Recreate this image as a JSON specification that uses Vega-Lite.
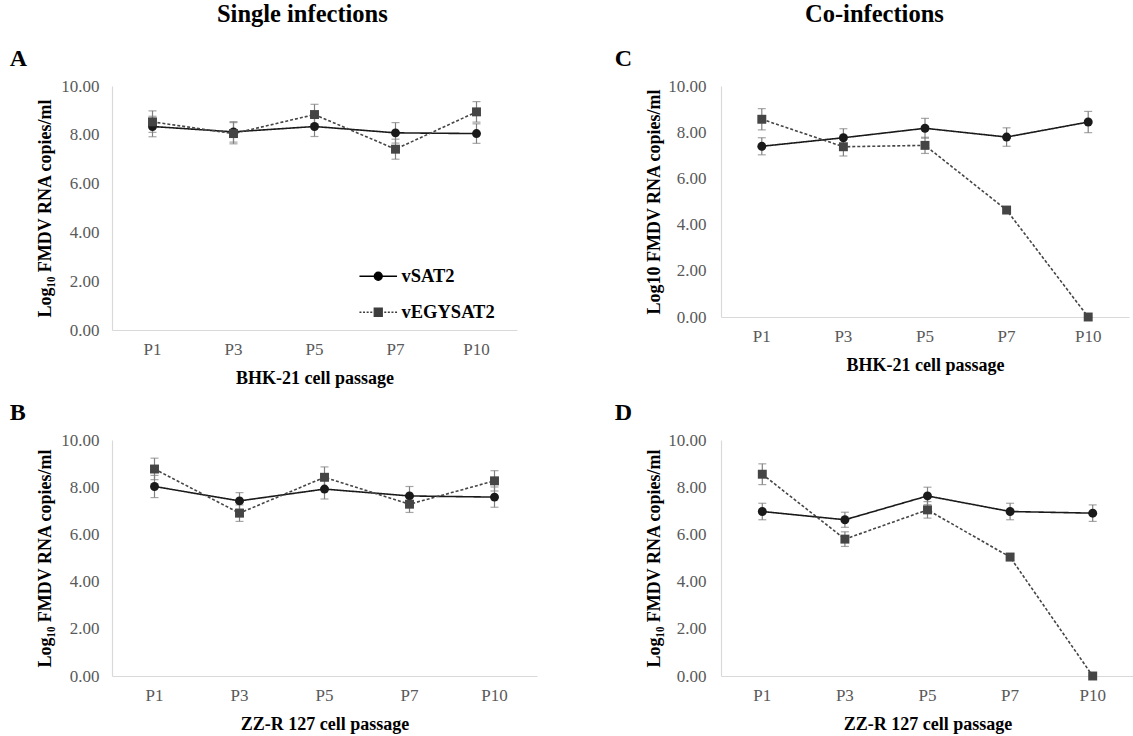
{
  "$schema": "https://vega.github.io/schema/vega-lite/v6.json",
  "padding": {"left": 9, "top": 1, "right": 0, "bottom": 2},
  "background": "white",
  "config": {
    "font": "Liberation Serif",
    "view": {"stroke": null},
    "axis": {
      "labelFont": "Liberation Serif",
      "labelFontSize": 17,
      "labelColor": "#595959",
      "titleFont": "Liberation Serif",
      "titleFontSize": 18,
      "titleFontWeight": "bold",
      "titleColor": "#000000",
      "domainColor": "#d9d9d9",
      "domainWidth": 1.2,
      "ticks": false,
      "grid": false,
      "labelOverlap": false
    },
    "axisY": {"labelPadding": 13, "titlePadding": 6, "format": ".2f"},
    "axisX": {"labelPadding": 11, "titlePadding": 12, "labelAngle": 0},
    "title": {"font": "Liberation Serif", "fontWeight": "bold", "color": "#000000"}
  },
  "datasets": {
    "d": [
      {"panel": "A", "series": "vSAT2", "passage": "P1", "value": 8.34, "lo": 7.92, "hi": 8.76},
      {"panel": "A", "series": "vSAT2", "passage": "P3", "value": 8.12, "lo": 7.70, "hi": 8.54},
      {"panel": "A", "series": "vSAT2", "passage": "P5", "value": 8.34, "lo": 7.93, "hi": 8.75},
      {"panel": "A", "series": "vSAT2", "passage": "P7", "value": 8.08, "lo": 7.66, "hi": 8.50},
      {"panel": "A", "series": "vSAT2", "passage": "P10", "value": 8.05, "lo": 7.65, "hi": 8.45},
      {"panel": "A", "series": "vEGYSAT2", "passage": "P1", "value": 8.53, "lo": 8.10, "hi": 8.98},
      {"panel": "A", "series": "vEGYSAT2", "passage": "P3", "value": 8.05, "lo": 7.63, "hi": 8.50},
      {"panel": "A", "series": "vEGYSAT2", "passage": "P5", "value": 8.83, "lo": 8.41, "hi": 9.25},
      {"panel": "A", "series": "vEGYSAT2", "passage": "P7", "value": 7.41, "lo": 7.00, "hi": 7.82},
      {"panel": "A", "series": "vEGYSAT2", "passage": "P10", "value": 8.94, "lo": 8.52, "hi": 9.36},

      {"panel": "B", "series": "vSAT2", "passage": "P1", "value": 8.03, "lo": 7.56, "hi": 8.50},
      {"panel": "B", "series": "vSAT2", "passage": "P3", "value": 7.42, "lo": 7.07, "hi": 7.77},
      {"panel": "B", "series": "vSAT2", "passage": "P5", "value": 7.92, "lo": 7.50, "hi": 8.34},
      {"panel": "B", "series": "vSAT2", "passage": "P7", "value": 7.63, "lo": 7.23, "hi": 8.03},
      {"panel": "B", "series": "vSAT2", "passage": "P10", "value": 7.58, "lo": 7.15, "hi": 8.01},
      {"panel": "B", "series": "vEGYSAT2", "passage": "P1", "value": 8.77, "lo": 8.32, "hi": 9.23},
      {"panel": "B", "series": "vEGYSAT2", "passage": "P3", "value": 6.90, "lo": 6.55, "hi": 7.25},
      {"panel": "B", "series": "vEGYSAT2", "passage": "P5", "value": 8.42, "lo": 7.98, "hi": 8.86},
      {"panel": "B", "series": "vEGYSAT2", "passage": "P7", "value": 7.28, "lo": 6.93, "hi": 7.63},
      {"panel": "B", "series": "vEGYSAT2", "passage": "P10", "value": 8.27, "lo": 7.84, "hi": 8.70},

      {"panel": "C", "series": "vSAT2", "passage": "P1", "value": 7.39, "lo": 7.02, "hi": 7.76},
      {"panel": "C", "series": "vSAT2", "passage": "P3", "value": 7.76, "lo": 7.37, "hi": 8.15},
      {"panel": "C", "series": "vSAT2", "passage": "P5", "value": 8.17, "lo": 7.74, "hi": 8.60},
      {"panel": "C", "series": "vSAT2", "passage": "P7", "value": 7.79, "lo": 7.39, "hi": 8.19},
      {"panel": "C", "series": "vSAT2", "passage": "P10", "value": 8.44, "lo": 7.98, "hi": 8.90},
      {"panel": "C", "series": "vEGYSAT2", "passage": "P1", "value": 8.56, "lo": 8.10, "hi": 9.02},
      {"panel": "C", "series": "vEGYSAT2", "passage": "P3", "value": 7.37, "lo": 6.97, "hi": 7.77},
      {"panel": "C", "series": "vEGYSAT2", "passage": "P5", "value": 7.43, "lo": 7.08, "hi": 7.78},
      {"panel": "C", "series": "vEGYSAT2", "passage": "P7", "value": 4.63, "lo": 4.50, "hi": 4.76},
      {"panel": "C", "series": "vEGYSAT2", "passage": "P10", "value": 0.0, "lo": 0.0, "hi": 0.0},

      {"panel": "D", "series": "vSAT2", "passage": "P1", "value": 6.97, "lo": 6.62, "hi": 7.32},
      {"panel": "D", "series": "vSAT2", "passage": "P3", "value": 6.62, "lo": 6.30, "hi": 6.94},
      {"panel": "D", "series": "vSAT2", "passage": "P5", "value": 7.63, "lo": 7.26, "hi": 8.00},
      {"panel": "D", "series": "vSAT2", "passage": "P7", "value": 6.97, "lo": 6.62, "hi": 7.32},
      {"panel": "D", "series": "vSAT2", "passage": "P10", "value": 6.90, "lo": 6.55, "hi": 7.25},
      {"panel": "D", "series": "vEGYSAT2", "passage": "P1", "value": 8.55, "lo": 8.11, "hi": 8.99},
      {"panel": "D", "series": "vEGYSAT2", "passage": "P3", "value": 5.80, "lo": 5.49, "hi": 6.11},
      {"panel": "D", "series": "vEGYSAT2", "passage": "P5", "value": 7.04, "lo": 6.69, "hi": 7.39},
      {"panel": "D", "series": "vEGYSAT2", "passage": "P7", "value": 5.04, "lo": 4.89, "hi": 5.19},
      {"panel": "D", "series": "vEGYSAT2", "passage": "P10", "value": 0.0, "lo": 0.0, "hi": 0.0}
    ]
  },
  "data": {"name": "d"},
  "spacing": 77,
  "hconcat": [
    {
      "title": {"text": "Single infections", "fontSize": 24.5, "anchor": "middle", "offset": 20, "dx": 29},
      "spacing": 14,
      "vconcat": [
        {
          "width": 405, "height": 244,
          "title": {"text": "A", "anchor": "start", "fontSize": 24, "dx": -27, "offset": 6},
          "transform": [{"filter": "datum.panel == 'A'"}],
          "encoding": {"x": {"field": "passage", "type": "ordinal", "sort": ["P1", "P3", "P5", "P7", "P10"], "axis": {"title": "BHK-21 cell passage"}}},
          "layer": [
            {"mark": {"type": "rule", "color": "#808080", "strokeWidth": 1.2},
             "encoding": {"y": {"field": "lo", "type": "quantitative", "scale": {"domain": [0, 10]}, "axis": {"title": "Log₁₀ FMDV RNA copies/ml", "values": [0, 2, 4, 6, 8, 10]}}, "y2": {"field": "hi"}}},
            {"mark": {"type": "tick", "color": "#808080", "size": 8, "thickness": 1.2},
             "encoding": {"y": {"field": "lo", "type": "quantitative"}}},
            {"mark": {"type": "tick", "color": "#808080", "size": 8, "thickness": 1.2},
             "encoding": {"y": {"field": "hi", "type": "quantitative"}}},
            {"mark": {"type": "line", "strokeWidth": 1.6},
             "encoding": {"y": {"field": "value", "type": "quantitative"},
               "color": {"field": "series", "type": "nominal", "sort": ["vSAT2", "vEGYSAT2"], "scale": {"range": ["#1a1a1a", "#454545"]}, "legend": null},
               "strokeDash": {"field": "series", "type": "nominal", "sort": ["vSAT2", "vEGYSAT2"], "scale": {"range": [[1, 0], [3, 2]]}, "legend": null},
               "opacity": {"field": "series", "type": "nominal", "scale": {"domain": ["vSAT2", "vEGYSAT2"], "range": [1, 1]},
                 "legend": {"title": null, "orient": "none", "legendX": 257, "legendY": 181, "rowPadding": 17, "labelOffset": 14,
                   "labelFont": "Liberation Serif", "labelFontSize": 18.5, "labelFontWeight": "bold", "labelColor": "#000000", "symbolSize": 64,
                   "encode": {"symbols": {"update": {
                     "shape": {"signal": "datum.value == 'vSAT2' ? 'M-4.7,0H4.7M-1,0A1,1 0 1,1 1,0A1,1 0 1,1 -1,0Z' : 'M-4.7,0H-4.2M-3.8,0H-3.3M-2.9,0H-2.4M-2,0H-1.5M1.5,0H2M2.4,0H2.9M3.3,0H3.8M4.2,0H4.7M-1,-1H1V1H-1Z'"},
                     "fill": {"signal": "datum.value == 'vSAT2' ? '#000000' : '#3d3d3d'"},
                     "stroke": {"signal": "datum.value == 'vSAT2' ? '#000000' : '#3d3d3d'"},
                     "strokeWidth": {"value": 1.3}
                   }}}}}}},
            {"mark": {"type": "point", "filled": true, "opacity": 1, "size": 80},
             "encoding": {"y": {"field": "value", "type": "quantitative"},
               "color": {"field": "series", "type": "nominal", "sort": ["vSAT2", "vEGYSAT2"], "legend": null},
               "shape": {"field": "series", "type": "nominal", "sort": ["vSAT2", "vEGYSAT2"], "scale": {"range": ["circle", "square"]}, "legend": null}}}
          ]
        },
        {
          "width": 425, "height": 236,
          "title": {"text": "B", "anchor": "start", "fontSize": 24, "dx": -27, "offset": 6},
          "transform": [{"filter": "datum.panel == 'B'"}],
          "encoding": {"x": {"field": "passage", "type": "ordinal", "sort": ["P1", "P3", "P5", "P7", "P10"], "axis": {"title": "ZZ-R 127 cell passage"}}},
          "layer": [
            {"mark": {"type": "rule", "color": "#808080", "strokeWidth": 1.2},
             "encoding": {"y": {"field": "lo", "type": "quantitative", "scale": {"domain": [0, 10]}, "axis": {"title": "Log₁₀ FMDV RNA copies/ml", "values": [0, 2, 4, 6, 8, 10]}}, "y2": {"field": "hi"}}},
            {"mark": {"type": "tick", "color": "#808080", "size": 8, "thickness": 1.2},
             "encoding": {"y": {"field": "lo", "type": "quantitative"}}},
            {"mark": {"type": "tick", "color": "#808080", "size": 8, "thickness": 1.2},
             "encoding": {"y": {"field": "hi", "type": "quantitative"}}},
            {"mark": {"type": "line", "strokeWidth": 1.6},
             "encoding": {"y": {"field": "value", "type": "quantitative"},
               "color": {"field": "series", "type": "nominal", "sort": ["vSAT2", "vEGYSAT2"], "legend": null},
               "strokeDash": {"field": "series", "type": "nominal", "sort": ["vSAT2", "vEGYSAT2"], "legend": null}}},
            {"mark": {"type": "point", "filled": true, "opacity": 1, "size": 80},
             "encoding": {"y": {"field": "value", "type": "quantitative"},
               "color": {"field": "series", "type": "nominal", "sort": ["vSAT2", "vEGYSAT2"], "legend": null},
               "shape": {"field": "series", "type": "nominal", "sort": ["vSAT2", "vEGYSAT2"], "legend": null}}}
          ]
        }
      ]
    },
    {
      "title": {"text": "Co-infections", "fontSize": 24.5, "anchor": "middle", "offset": 20, "dx": 0},
      "spacing": 27,
      "vconcat": [
        {
          "width": 408, "height": 231,
          "title": {"text": "C", "anchor": "start", "fontSize": 24, "dx": -31, "offset": 6},
          "transform": [{"filter": "datum.panel == 'C'"}],
          "encoding": {"x": {"field": "passage", "type": "ordinal", "sort": ["P1", "P3", "P5", "P7", "P10"], "axis": {"title": "BHK-21 cell passage"}}},
          "layer": [
            {"mark": {"type": "rule", "color": "#808080", "strokeWidth": 1.2},
             "encoding": {"y": {"field": "lo", "type": "quantitative", "scale": {"domain": [0, 10]}, "axis": {"title": "Log10 FMDV RNA copies/ml", "values": [0, 2, 4, 6, 8, 10], "labelPadding": 15, "titlePadding": 4}}, "y2": {"field": "hi"}}},
            {"mark": {"type": "tick", "color": "#808080", "size": 8, "thickness": 1.2},
             "encoding": {"y": {"field": "lo", "type": "quantitative"}}},
            {"mark": {"type": "tick", "color": "#808080", "size": 8, "thickness": 1.2},
             "encoding": {"y": {"field": "hi", "type": "quantitative"}}},
            {"mark": {"type": "line", "strokeWidth": 1.6},
             "encoding": {"y": {"field": "value", "type": "quantitative"},
               "color": {"field": "series", "type": "nominal", "sort": ["vSAT2", "vEGYSAT2"], "legend": null},
               "strokeDash": {"field": "series", "type": "nominal", "sort": ["vSAT2", "vEGYSAT2"], "legend": null}}},
            {"mark": {"type": "point", "filled": true, "opacity": 1, "size": 80},
             "encoding": {"y": {"field": "value", "type": "quantitative"},
               "color": {"field": "series", "type": "nominal", "sort": ["vSAT2", "vEGYSAT2"], "legend": null},
               "shape": {"field": "series", "type": "nominal", "sort": ["vSAT2", "vEGYSAT2"], "legend": null}}}
          ]
        },
        {
          "width": 413, "height": 236,
          "title": {"text": "D", "anchor": "start", "fontSize": 24, "dx": -31, "offset": 6},
          "transform": [{"filter": "datum.panel == 'D'"}],
          "encoding": {"x": {"field": "passage", "type": "ordinal", "sort": ["P1", "P3", "P5", "P7", "P10"], "axis": {"title": "ZZ-R 127 cell passage"}}},
          "layer": [
            {"mark": {"type": "rule", "color": "#808080", "strokeWidth": 1.2},
             "encoding": {"y": {"field": "lo", "type": "quantitative", "scale": {"domain": [0, 10]}, "axis": {"title": "Log₁₀ FMDV RNA copies/ml", "values": [0, 2, 4, 6, 8, 10], "labelPadding": 15, "titlePadding": 4}}, "y2": {"field": "hi"}}},
            {"mark": {"type": "tick", "color": "#808080", "size": 8, "thickness": 1.2},
             "encoding": {"y": {"field": "lo", "type": "quantitative"}}},
            {"mark": {"type": "tick", "color": "#808080", "size": 8, "thickness": 1.2},
             "encoding": {"y": {"field": "hi", "type": "quantitative"}}},
            {"mark": {"type": "line", "strokeWidth": 1.6},
             "encoding": {"y": {"field": "value", "type": "quantitative"},
               "color": {"field": "series", "type": "nominal", "sort": ["vSAT2", "vEGYSAT2"], "legend": null},
               "strokeDash": {"field": "series", "type": "nominal", "sort": ["vSAT2", "vEGYSAT2"], "legend": null}}},
            {"mark": {"type": "point", "filled": true, "opacity": 1, "size": 80},
             "encoding": {"y": {"field": "value", "type": "quantitative"},
               "color": {"field": "series", "type": "nominal", "sort": ["vSAT2", "vEGYSAT2"], "legend": null},
               "shape": {"field": "series", "type": "nominal", "sort": ["vSAT2", "vEGYSAT2"], "legend": null}}}
          ]
        }
      ]
    }
  ]
}
